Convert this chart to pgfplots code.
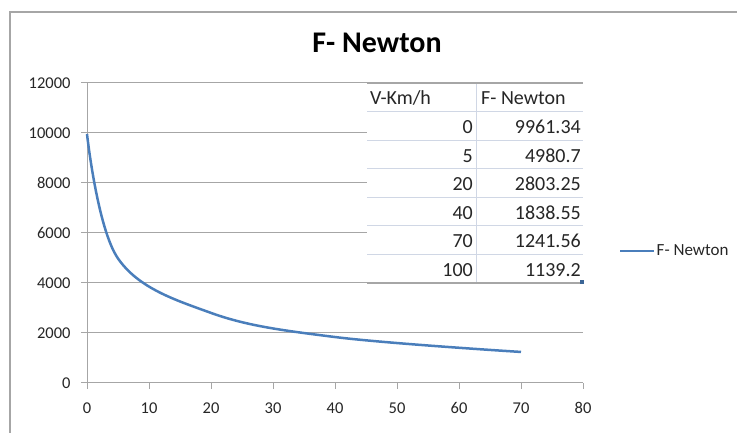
\documentclass[border=0pt]{standalone}
\usepackage{fontspec}
\setmainfont{Carlito}
\usepackage{pgfplots}
\pgfplotsset{compat=1.18}

\definecolor{lineblue}{HTML}{4A7EBB}
\definecolor{gridgray}{HTML}{A6A6A6}
\definecolor{cellline}{HTML}{D0D7E5}
\definecolor{txt}{HTML}{262626}

\begin{document}
\begin{tikzpicture}[x=1bp,y=1bp]
\useasboundingbox (0,0) rectangle (737,433);
% chart area border (only top and left are visible)
\draw[gridgray, line width=1.3bp] (10,0) -- (10,421) -- (737,421);

\begin{axis}[
    at={(87bp,50bp)}, anchor=south west,
    scale only axis,
    width=496bp, height=300bp,
    xmin=0, xmax=80, ymin=0, ymax=12000,
    xtick={0,10,...,80},
    ytick={0,2000,...,12000},
    scaled y ticks=false,
    axis lines=left,
    axis line style={-, draw=gridgray, line width=1bp},
    tick style={draw=gridgray, line width=1bp},
    tick align=outside,
    major tick length=6bp,
    ymajorgrids,
    grid style={draw=gridgray, line width=1bp},
    ticklabel style={font=\fontsize{16.5bp}{19bp}\selectfont, text=txt},
    xticklabel style={yshift=-10bp},
    yticklabel style={xshift=-7bp},
    /pgf/number format/assume math mode=true,
    /pgf/number format/set thousands separator={},
    clip=false,
    legend style={at={(axis description cs:1.0726,0.44)}, anchor=west,
        draw=none, fill=none, inner sep=0pt,
        font=\fontsize{17bp}{20bp}\selectfont,
        nodes={inner sep=0pt, text=txt},
        /tikz/every odd column/.append style={column sep=1bp}},
    legend image code/.code={\draw[#1] (0bp,0bp) -- (34bp,0bp);},
]
\addplot[smooth, tension=0.6, color=lineblue, line width=2.5bp] coordinates {
    (0, 9961.34)
    (5, 4980.7)
    (20, 2803.25)
    (40, 1838.55)
    (70, 1241.56)
};
\addlegendentry{F- Newton}
\end{axis}

% title
\node[anchor=base, inner sep=0pt, font=\bfseries\fontsize{30bp}{36bp}\selectfont]
    at (377,380.7) {F- Newton};

% data table laid over the plot
\fill[white] (367,150) rectangle (583,350);
\foreach \i in {1,...,6}
    \draw[cellline, line width=1bp] (367,{350-28.6*\i}) -- (583,{350-28.6*\i});
\draw[cellline, line width=1bp] (476,150) -- (476,350);
\draw[gridgray, line width=1.3bp] (367,350) -- (583,350);
\draw[gridgray, line width=1.3bp] (367,150) -- (583,150);
\begin{scope}[every node/.style={inner sep=0pt, text=txt,
        font=\fontsize{20bp}{24bp}\selectfont}]
\node[anchor=base west] at (370,328) {V-Km/h};
\node[anchor=base west] at (481,328) {F- Newton};
\foreach \v/\f [count=\i] in {0/9961.34, 5/4980.7, 20/2803.25,
        40/1838.55, 70/1241.56, 100/1139.2} {
    \node[anchor=base east] at (473,{328-28.6*\i}) {\v};
    \node[anchor=base east] at (581,{328-28.6*\i}) {\f};
}
\end{scope}
\fill[lineblue!80!black] (580,149) rectangle (584,153);
\end{tikzpicture}
\end{document}
